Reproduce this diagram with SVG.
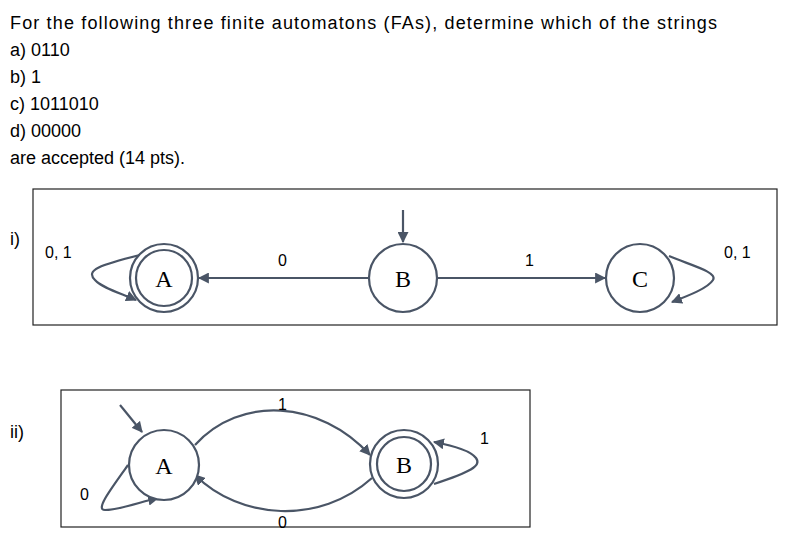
<svg xmlns="http://www.w3.org/2000/svg" width="804" height="550" viewBox="0 0 804 550">
<style>
.t{font-family:"Liberation Sans",Arial,sans-serif;font-size:18px;fill:#000}
.l{font-family:"Liberation Sans",Arial,sans-serif;font-size:16px;fill:#000}
.n{font-family:"Liberation Serif","Times New Roman",serif;font-size:24px;fill:#000;text-anchor:middle}
.c{fill:#fff;stroke:#4a5566;stroke-width:2.2}
.e{fill:none;stroke:#4a5566;stroke-width:2.2;marker-end:url(#ah)}
.box{fill:none;stroke:#222;stroke-width:1.2}
</style>
<defs><marker id="ah" viewBox="0 0 10 10" refX="9" refY="5" markerWidth="5" markerHeight="5" orient="auto"><path d="M0,0L10,5L0,10z" fill="#4a5566"/></marker></defs>
<rect width="804" height="550" fill="#fff"/>
<text class="t" x="10" y="29" textLength="707">For the following three finite automatons (FAs), determine which of the strings</text>
<text class="t" x="10" y="56">a)  0110</text>
<text class="t" x="10" y="83">b)  1</text>
<text class="t" x="10" y="110">c)  1011010</text>
<text class="t" x="10" y="137">d)  00000</text>
<text class="t" x="10" y="164">are accepted (14 pts).</text>
<rect class="box" x="33" y="189" width="744" height="136"/>
<rect class="box" x="61" y="390" width="469" height="137"/>
<text class="t" x="10" y="245">i)</text>
<text class="t" x="10" y="438">ii)</text>
<g id="connectors">
<path class="e" d="M369,278H199"/>
<path class="e" d="M403,210V242"/>
<path class="e" d="M437,278H605"/>
<path class="e" d="M140,255C100,265 85,270 95,280C102,288 120,293 136,300"/>
<path class="e" d="M669,256C690,265 718,272 713,280C708,288 690,295 672,302"/>
<path class="e" d="M195,445C240,395 320,400 370,455"/>
<path class="e" d="M372,478C320,525 240,520 195,475"/>
<path class="e" d="M128,465C110,490 95,510 105,510C120,510 140,502 158,498"/>
<path class="e" d="M434,484C470,472 482,466 476,458C470,450 450,445 434,442"/>
<path class="e" d="M120,405L142,432"/>
</g>
<g id="A1"><circle class="c" cx="164" cy="278" r="34"/><circle class="c" cx="164" cy="278" r="28"/><text class="n" x="164" y="287">A</text></g>
<g id="B1"><circle class="c" cx="403" cy="278" r="34"/><text class="n" x="403" y="287">B</text></g>
<g id="C1"><circle class="c" cx="640" cy="278" r="34"/><text class="n" x="640" y="287">C</text></g>
<g id="A2"><circle class="c" cx="164" cy="465" r="35"/><text class="n" x="164" y="474">A</text></g>
<g id="B2"><circle class="c" cx="404" cy="464" r="34"/><circle class="c" cx="404" cy="464" r="27"/><text class="n" x="404" y="473">B</text></g>
<text class="l" x="45" y="258">0, 1</text>
<text class="l" x="278" y="266">0</text>
<text class="l" x="525" y="266">1</text>
<text class="l" x="724" y="258">0, 1</text>
<text class="l" x="278" y="410">1</text>
<text class="l" x="480" y="444">1</text>
<text class="l" x="80" y="500">0</text>
<text class="l" x="278" y="528">0</text>
</svg>
